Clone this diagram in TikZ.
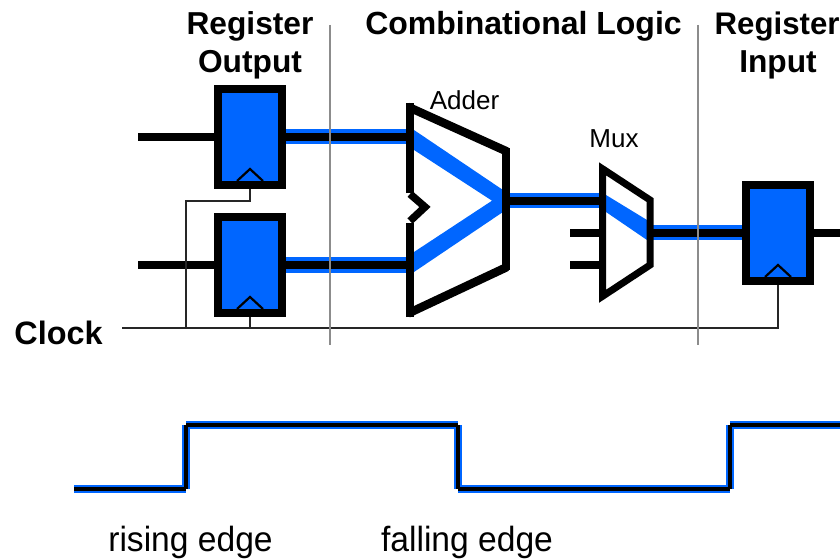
\documentclass[tikz,border=0pt]{standalone}
\usepackage{fontspec}
\setmainfont{Liberation Sans}
\definecolor{wireblue}{HTML}{0066FF}
\definecolor{guide}{HTML}{8C8C8C}
\newcommand{\headfont}{\fontsize{31.7}{38}\selectfont\bfseries}
\tikzset{
  x=1pt,y=-1pt,
  reg/.style={draw=black,fill=wireblue,line width=7.6pt,line join=miter},
  busblue/.style={draw=wireblue,line width=15.5pt},
  wire/.style={draw=black,line width=7.6pt},
  thin wire/.style={draw=black!85,line width=2.2pt,line join=miter},
  clocktick/.style={draw=black,line width=2.2pt,line join=miter},
  unit/.style={draw=black,line width=7.5pt,line join=miter},
  slant/.style={draw=black,line width=8.5pt},
  muxbody/.style={draw=black,line width=7pt,line join=miter},
  guideline/.style={draw=guide,line width=2.6pt},
  waveblue/.style={draw=wireblue,line width=8pt},
  waveblack/.style={draw=black,line width=3.5pt},
  head/.style={font=\headfont,inner sep=0pt,anchor=base},
  small/.style={font=\fontsize{26}{30}\selectfont,inner sep=0pt,anchor=base},
  wavelabel/.style={font=\fontsize{35}{39}\selectfont,inner sep=0pt,anchor=base,xscale=.96}
}
\begin{document}
\begin{tikzpicture}
\useasboundingbox (0,0) rectangle (840,559);
% named anchor points
\coordinate (inA) at (138,136.7);
\coordinate (inB) at (138,265);
\coordinate (regAr) at (282,136.7);
\coordinate (regBr) at (282,265);
\coordinate (addAl) at (410,136.7);
\coordinate (addBl) at (410,265);
\coordinate (addO) at (506,200.7);
\coordinate (muxI) at (602,200.7);
\coordinate (muxO) at (650,232.7);
\coordinate (regCl) at (746,232.7);
\coordinate (regCr) at (810,232.7);
\coordinate (outC) at (840,232.7);
\coordinate (muxA) at (570,232.7);
\coordinate (muxB) at (570,265);
\coordinate (muxAe) at (602,232.7);
\coordinate (muxBe) at (602,265);
\coordinate (clkS) at (122,328);
\coordinate (clkC) at (778,328);
\coordinate (clkT) at (186,328);
\coordinate (clkM) at (250,328);
% buses
\draw[busblue] (regAr) -- (addAl);
\draw[busblue] (regBr) -- (addBl);
\draw[busblue] (addO) -- (muxI);
\draw[busblue] (muxO) -- (regCl);
\draw[wire] (regAr) -- (addAl);
\draw[wire] (regBr) -- (addBl);
\draw[wire] (addO) -- (muxI);
\draw[wire] (muxO) -- (regCl);
\draw[wire] (inA) -- (218,136.7);
\draw[wire] (inB) -- (218,265);
\draw[wire] (regCr) -- (outC);
\draw[wire] (muxA) -- (muxAe);
\draw[wire] (muxB) -- (muxBe);
% clock wires
\draw[thin wire] (clkS) -- (clkC) -- (778,281);
\draw[thin wire] (clkT) -- (186,200.7) -- (250,200.7) -- (250,186);
\draw[thin wire] (clkM) -- (250,314);
% registers
\node[reg,minimum width=64pt,minimum height=96pt,inner sep=0pt,outer sep=0pt,anchor=north west] (regA) at (218,89) {};
\node[reg,minimum width=64pt,minimum height=96pt,inner sep=0pt,outer sep=0pt,anchor=north west] (regB) at (218,217) {};
\node[reg,minimum width=64pt,minimum height=96pt,inner sep=0pt,outer sep=0pt,anchor=north west] (regC) at (746,185) {};
\draw[clocktick] (237,181) -- (250,169) -- (263,181);
\draw[clocktick] (237,309) -- (250,297) -- (263,309);
\draw[clocktick] (765,277) -- (778,265) -- (791,277);
% adder
\fill[wireblue] (414,130) -- (503,190) -- (503,212) -- (414,272) -- (414,252) -- (492,200.7) -- (414,150) -- cycle;
\draw[unit] (410,193) -- (410,103);
\draw[slant] (408,106.8) -- (507,151.5);
\draw[unit] (506,148) -- (506,270);
\draw[slant] (507,267) -- (408,313.5);
\draw[unit] (410,317) -- (410,223);
\draw[unit] (410,194) -- (425,207) -- (410,221);
% mux
\fill[wireblue] (606,195) -- (647,220) -- (647,240) -- (606,212) -- cycle;
\draw[muxbody] (602.5,168.8) -- (650,200) -- (650,265) -- (602.5,296.3) -- cycle;
% guides
\draw[guideline] (330,25) -- (330,345);
\draw[guideline] (698,25) -- (698,345);
% waveform
\coordinate (w0) at (74,489);
\coordinate (w1) at (186,489);
\coordinate (w2) at (186,425);
\coordinate (w3) at (458,425);
\coordinate (w4) at (458,489);
\coordinate (w5) at (730,489);
\coordinate (w6) at (730,425);
\coordinate (w7) at (840,425);
\foreach \st in {waveblue,waveblack}{
  \draw[\st] (w0) -- (w1);
  \draw[\st] (w1) -- (w2);
  \draw[\st] (w2) -- (w3);
  \draw[\st] (w3) -- (w4);
  \draw[\st] (w4) -- (w5);
  \draw[\st] (w5) -- (w6);
  \draw[\st] (w6) -- (w7);
}
% text
\node[head] (t1) at (250,34.5) {Register};
\node[head] (t1b) at (250,73) {Output};
\node[head,font=\fontsize{32}{38}\selectfont\bfseries] (t2) at (523.5,34.5) {Combinational Logic};
\node[head,anchor=base west,font=\fontsize{31.2}{38}\selectfont\bfseries] (t3) at (714.5,34.5) {Register};
\node[head] (t3b) at (778,73) {Input};
\node[head,font=\fontsize{32.4}{38}\selectfont\bfseries] (t4) at (58.5,344) {Clock};
\node[small] (t5) at (464.5,109.5) {Adder};
\node[small] (t6) at (614,147) {Mux};
\node[wavelabel] (t7) at (190.5,551) {rising edge};
\node[wavelabel] (t8) at (467,551) {falling edge};
\end{tikzpicture}
\end{document}
